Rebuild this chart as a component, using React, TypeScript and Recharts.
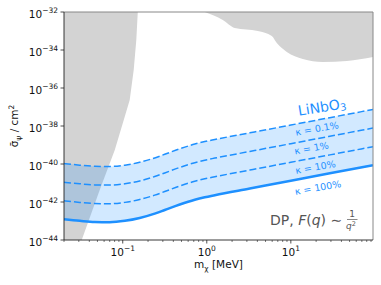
import React from "react";
import { ComposedChart, Area, Line, XAxis, YAxis, ReferenceLine } from "recharts";

// dark matter mass m_chi [MeV]
const MASS = [0.02, 0.0308, 0.0464, 0.07, 0.106, 0.159, 0.24, 0.316, 0.477, 0.72, 0.946, 1.245, 3.25, 10, 29.1, 95];

// log10 of cross section [cm^2] for each kappa
const LOG_SIGMA_K100 = [-42.91, -42.99, -43.05, -43.06, -42.99, -42.84, -42.61, -42.42, -42.13, -41.88, -41.75, -41.64, -41.29, -40.88, -40.49, -40.06];
const LOG_SIGMA_K10 = [-41.94, -42.02, -42.08, -42.09, -42.02, -41.87, -41.64, -41.45, -41.16, -40.91, -40.78, -40.67, -40.32, -39.91, -39.52, -39.09];
const LOG_SIGMA_K1 = [-40.96, -41.04, -41.1, -41.11, -41.04, -40.89, -40.66, -40.47, -40.18, -39.93, -39.8, -39.69, -39.34, -38.93, -38.54, -38.11];
const LOG_SIGMA_K01 = [-39.98, -40.06, -40.12, -40.13, -40.06, -39.91, -39.68, -39.49, -39.2, -38.95, -38.82, -38.71, -38.36, -37.95, -37.56, -37.13];

// excluded regions (lower edge, filled up to the top of the plot)
const LEFT_EXCL_MASS = [0.02, 0.0325, 0.0532, 0.0804, 0.1028, 0.121, 0.135, 0.145, 0.151];
const LEFT_EXCL_LOG = [-44, -44, -41.37, -39.26, -37.68, -36.63, -35.05, -33.47, -32];
const TOP_EXCL_MASS = [0.946, 1.55, 2.15, 4.05, 5.94, 6.81, 8.96, 13.9, 24, 46.4, 95];
const TOP_EXCL_LOG = [-32, -32.42, -32.84, -33.0, -33.26, -33.63, -34.1, -34.47, -34.63, -34.58, -34.37];

const X_MAJOR = [0.1, 1, 10];
const X_MINOR = [
  0.02, 0.03, 0.04, 0.05, 0.06, 0.07, 0.08, 0.09,
  0.2, 0.3, 0.4, 0.5, 0.6, 0.7, 0.8, 0.9,
  2, 3, 4, 5, 6, 7, 8, 9,
  20, 30, 40, 50, 60, 70, 80, 90,
];
const Y_TICK_EXP = [-44, -42, -40, -38, -36, -34, -32];

const X_DOMAIN = [0.02, 95];
const Y_TOP = 1e-32;
const Y_BOTTOM = 1e-44;

const BLUE = "#1e90ff";
const FONT = "DejaVu Sans";

const p10 = (e: number) => Math.pow(10, e);

const lineData = (vals: number[]) => MASS.map((m, i) => ({ m, v: p10(vals[i]) }));
const bandData = MASS.map((m, i) => ({ m, r: [p10(LOG_SIGMA_K100[i]), p10(LOG_SIGMA_K01[i])] }));
const leftExcl = LEFT_EXCL_MASS.map((m, i) => ({ m, r: [p10(LEFT_EXCL_LOG[i]), Y_TOP] }));
const topExcl = TOP_EXCL_MASS.map((m, i) => ({ m, r: [p10(TOP_EXCL_LOG[i]), Y_TOP] }));

const expLabel = (e: number) => (e < 0 ? "\u2212" + Math.abs(e) : String(e));

function XTick(props: any) {
  const { x, y, payload } = props;
  const e = Math.log10(payload.value);
  const major = Math.abs(e - Math.round(e)) < 1e-6;
  return (
    <g>
      <line x1={x} x2={x} y1={y} y2={y + (major ? 3.5 : 2)} stroke="#222" strokeWidth={major ? 0.8 : 0.6} />
      {major && (
        <text x={x} y={y + 16} textAnchor="middle" fontSize={10.5} fontFamily={FONT} fill="#111">
          10<tspan dy={-5} fontSize={7.5}>{expLabel(Math.round(e))}</tspan>
        </text>
      )}
    </g>
  );
}

function YTick(props: any) {
  const { x, y, payload } = props;
  const e = Math.round(Math.log10(payload.value));
  return (
    <g>
      <line x1={x - 3.5} x2={x} y1={y} y2={y} stroke="#222" strokeWidth={0.8} />
      <text x={x - 6} y={y + 6} textAnchor="end" fontSize={10.5} fontFamily={FONT} fill="#111">
        10<tspan dy={-5} fontSize={7.5}>{expLabel(e)}</tspan>
      </text>
    </g>
  );
}

function Labels() {
  return (
    <svg width={381} height={285} style={{ position: "absolute", left: 0, top: 0, pointerEvents: "none" }}>
      <text transform="translate(18,126) rotate(-90)" textAnchor="middle" fontSize={10.5} fontFamily={FONT} fill="#111">
        {"\u03c3\u0304"}<tspan dy={2.5} fontSize={7.5}>{"\u03c8"}</tspan><tspan dy={-2.5}>{" / cm"}</tspan>
        <tspan dy={-4} fontSize={7.5}>2</tspan>
      </text>
      <text x={218.5} y={268} textAnchor="middle" fontSize={10.5} fontFamily={FONT} fill="#111">
        m<tspan dy={2.5} fontSize={7.5}>{"\u03c7"}</tspan><tspan dy={-2.5}>{" [MeV]"}</tspan>
      </text>

      <text transform="translate(322,107) rotate(-9)" textAnchor="middle" dominantBaseline="central" fontSize={14} fontFamily={FONT} fill={BLUE}>
        LiNbO<tspan dy={3} fontSize={10}>3</tspan>
      </text>
      <text transform="translate(317,128.5) rotate(-10)" textAnchor="middle" dominantBaseline="central" fontSize={9.5} fontFamily={FONT} fill={BLUE}>
        {"\u03ba = 0.1%"}
      </text>
      <text transform="translate(311.5,148) rotate(-10)" textAnchor="middle" dominantBaseline="central" fontSize={9.5} fontFamily={FONT} fill={BLUE}>
        {"\u03ba = 1%"}
      </text>
      <text transform="translate(315.5,167) rotate(-10)" textAnchor="middle" dominantBaseline="central" fontSize={9.5} fontFamily={FONT} fill={BLUE}>
        {"\u03ba = 10%"}
      </text>
      <text transform="translate(318,187.5) rotate(-10)" textAnchor="middle" dominantBaseline="central" fontSize={9.5} fontFamily={FONT} fill={BLUE}>
        {"\u03ba = 100%"}
      </text>

      <text x={270} y={225} fontSize={14} fontFamily={FONT} fill="#555">
        {"DP, "}<tspan fontStyle="italic">F</tspan>(<tspan fontStyle="italic">q</tspan>){" \u223c "}
      </text>
      <text x={352} y={216.5} textAnchor="middle" fontSize={9} fontFamily={FONT} fill="#555">1</text>
      <line x1={347} x2={357.5} y1={219.5} y2={219.5} stroke="#555" strokeWidth={0.7} />
      <text x={351} y={229} textAnchor="middle" fontSize={9} fontFamily={FONT} fill="#555">
        <tspan fontStyle="italic">q</tspan><tspan dy={-3} fontSize={6.5}>2</tspan>
      </text>
    </svg>
  );
}

export default function App() {
  return (
    <div style={{ position: "absolute", left: 0, top: 0, width: 381, height: 285, background: "#fff" }}>
      <ComposedChart width={381} height={285} margin={{ top: 12, right: 8, bottom: 0, left: 0 }}>
        <XAxis
          dataKey="m"
          type="number"
          scale="log"
          domain={X_DOMAIN}
          allowDataOverflow
          ticks={[...X_MINOR, ...X_MAJOR].sort((a, b) => a - b)}
          interval={0}
          tick={<XTick />}
          tickLine={false}
          tickSize={0}
          tickMargin={0}
          axisLine={{ stroke: "#222", strokeWidth: 0.9 }}
          height={45}
        />
        <YAxis
          type="number"
          scale="log"
          domain={[Y_BOTTOM, Y_TOP]}
          allowDataOverflow
          ticks={Y_TICK_EXP.map(p10)}
          interval={0}
          tick={<YTick />}
          tickLine={false}
          tickSize={0}
          tickMargin={0}
          axisLine={{ stroke: "#222", strokeWidth: 0.9 }}
          width={64}
        />
        <Area data={leftExcl} dataKey="r" type="linear" fill="#d3d3d3" fillOpacity={1} stroke="none" isAnimationActive={false} />
        <Area data={topExcl} dataKey="r" type="monotone" fill="#d3d3d3" fillOpacity={1} stroke="none" isAnimationActive={false} />
        <Area data={bandData} dataKey="r" type="monotone" fill={BLUE} fillOpacity={0.2} stroke="none" isAnimationActive={false} />
        <Line data={lineData(LOG_SIGMA_K01)} dataKey="v" type="monotone" stroke={BLUE} strokeWidth={1.5} strokeDasharray="7 3" dot={false} isAnimationActive={false} />
        <Line data={lineData(LOG_SIGMA_K1)} dataKey="v" type="monotone" stroke={BLUE} strokeWidth={1.5} strokeDasharray="7 3" dot={false} isAnimationActive={false} />
        <Line data={lineData(LOG_SIGMA_K10)} dataKey="v" type="monotone" stroke={BLUE} strokeWidth={1.5} strokeDasharray="7 3" dot={false} isAnimationActive={false} />
        <Line data={lineData(LOG_SIGMA_K100)} dataKey="v" type="monotone" stroke={BLUE} strokeWidth={2.5} dot={false} isAnimationActive={false} />
        <ReferenceLine y={Y_TOP} stroke="#888" strokeWidth={1} />
        <ReferenceLine x={X_DOMAIN[1]} stroke="#888" strokeWidth={1} />
      </ComposedChart>
      <Labels />
    </div>
  );
}
